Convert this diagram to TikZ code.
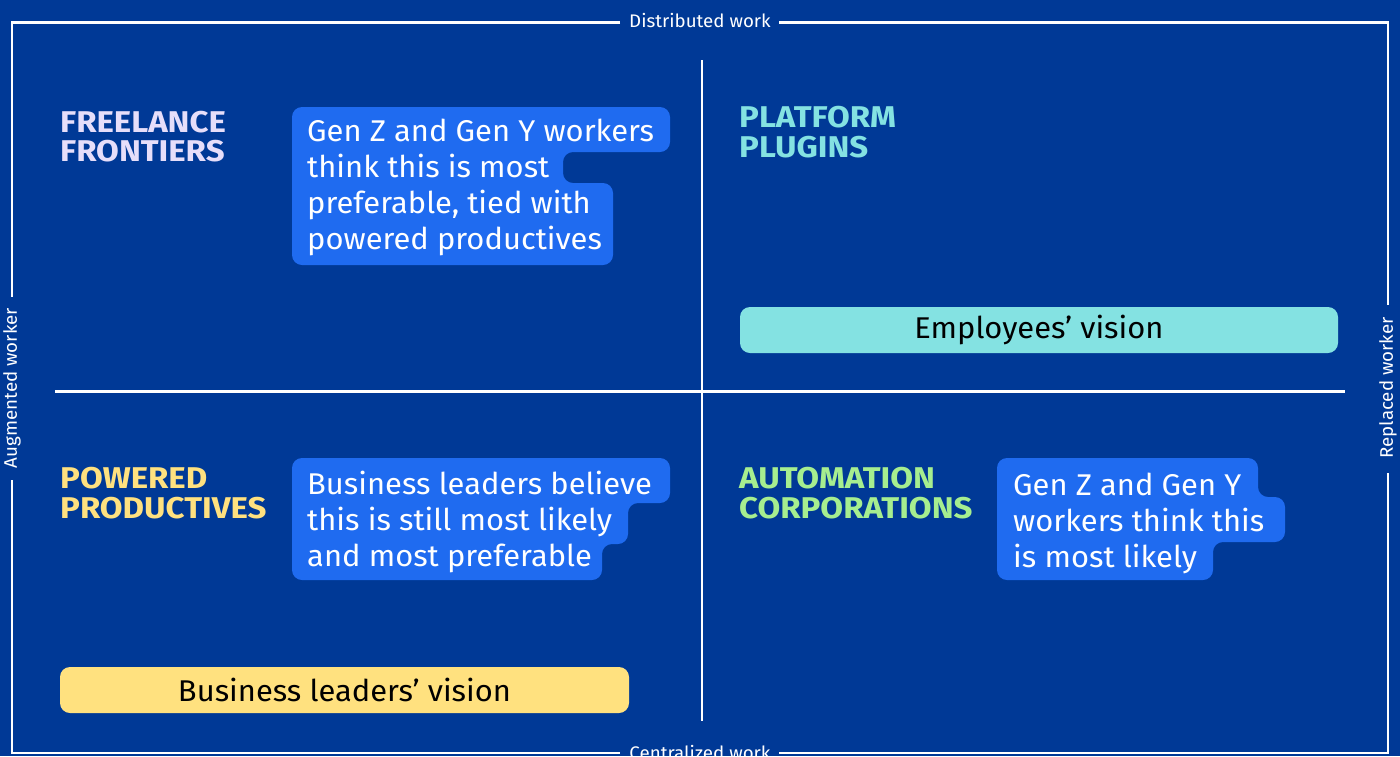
\documentclass[tikz,border=0pt]{standalone}
\usepackage{fontspec}
\setmainfont{Fira Sans}
\newfontfamily\labelfont[FakeStretch=1.1]{Fira Sans}
\newfontfamily\bubblefont[FakeStretch=1.03]{Fira Sans}
\definecolor{bgblue}{RGB}{0,57,150}
\definecolor{bubble}{RGB}{31,107,240}
\definecolor{teal}{RGB}{132,226,226}
\definecolor{yel}{RGB}{255,225,127}
\definecolor{lav}{RGB}{230,222,250}
\definecolor{grn}{RGB}{166,238,143}
\tikzset{
  frameline/.style={white,line width=2.5pt},
  axislabel/.style={white,font=\bubblefont\fontsize{18.2}{20}\selectfont,inner sep=0pt},
  quadlabel/.style={anchor=base west,inner sep=0pt,font=\labelfont\fontsize{30}{30}\selectfont\bfseries},
  bubbletext/.style={anchor=base west,inner sep=0pt,white,font=\bubblefont\fontsize{30}{36}\selectfont},
  bubbleshape/.style={fill=bubble,rounded corners=10pt},
  pill/.style={rounded corners=10pt,minimum height=46pt,inner sep=0pt,font=\bubblefont\fontsize{30}{36}\selectfont,text=black}
}
\begin{document}
\begin{tikzpicture}[x=1pt,y=-1pt]
\useasboundingbox (0,0) rectangle (1400,756);
\fill[bgblue] (0,0) rectangle (1400,756);
% frame
\node[axislabel] (dist) at (700,20.5) {Distributed work};
\node[axislabel] (cent) at (700,752) {Centralized work};
\node[axislabel,rotate=90] (aug) at (12,388) {Augmented worker};
\node[axislabel,rotate=90] (rep) at (1388,388) {Replaced worker};
\draw[frameline] (620,22.5) -- (12,22.5) -- (12,297);
\draw[frameline] (12,480) -- (12,753) -- (620,753);
\draw[frameline] (779,22.5) -- (1388,22.5) -- (1388,305);
\draw[frameline] (1388,473) -- (1388,753) -- (779,753);
% cross
\coordinate (vtop) at (702,60);
\coordinate (vbot) at (702,721);
\coordinate (hl) at (55,391.5);
\coordinate (hr) at (1345,391.5);
\draw[frameline] (vtop) -- (vbot);
\draw[frameline] (hl) -- (hr);
% quadrant labels
\node[quadlabel,text=lav] (ff1) at (60,132) {FREELANCE};
\node[quadlabel,text=lav] (ff2) at (60,161) {FRONTIERS};
\node[quadlabel,text=teal] (pp1) at (739,127) {PLATFORM};
\node[quadlabel,text=teal] (pp2) at (739,157) {PLUGINS};
\node[quadlabel,text=yel] (po1) at (60,488) {POWERED};
\node[quadlabel,text=yel] (po2) at (60,518) {PRODUCTIVES};
\node[quadlabel,text=grn] (ac1) at (739,488) {AUTOMATION};
\node[quadlabel,text=grn] (ac2) at (739,518) {CORPORATIONS};
% bubble 1
\fill[bubbleshape] (292,107) -- (670,107) -- (670,152) -- (563,152) -- (563,183) -- (613,183) -- (613,265) -- (292,265) -- cycle;
\node[bubbletext] (b1a) at (307,141) {Gen Z and Gen Y workers};
\node[bubbletext] (b1b) at (307,177) {think this is most};
\node[bubbletext] (b1c) at (307,213) {preferable, tied with};
\node[bubbletext] (b1d) at (307,249) {powered productives};
% bubble 2
\fill[bubbleshape] (292,458) -- (670,458) -- (670,503) -- (628,503) -- (628,544) -- (602,544) -- (602,580) -- (292,580) -- cycle;
\node[bubbletext] (b2a) at (307,494) {Business leaders believe};
\node[bubbletext] (b2b) at (307,530) {this is still most likely};
\node[bubbletext] (b2c) at (307,566) {and most preferable};
% bubble 3
\fill[bubbleshape] (997,458) -- (1258,458) -- (1258,497) -- (1285,497) -- (1285,542) -- (1213,542) -- (1213,580) -- (997,580) -- cycle;
\node[bubbletext] (b3a) at (1013,495) {Gen Z and Gen Y};
\node[bubbletext] (b3b) at (1013,531) {workers think this};
\node[bubbletext] (b3c) at (1013,567) {is most likely};
% pills
\node[pill,fill=teal,minimum width=598pt] (emp) at (1039,330) {Employees’ vision};
\node[pill,fill=yel,minimum width=569pt] (bus) at (344.5,690) {Business leaders’ vision};
\end{tikzpicture}
\end{document}
